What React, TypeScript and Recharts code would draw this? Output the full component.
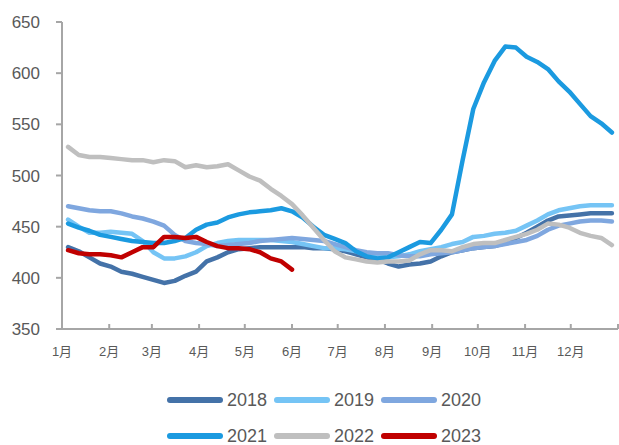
import React from "react";
import { LineChart, Line, XAxis, YAxis, Legend } from "recharts";

// day of year for each weekly observation
const weekDays = [
  4, 11, 18, 25, 32, 39, 46, 53, 60, 67, 74, 81, 88, 95, 102, 109, 116, 123,
  130, 137, 144, 151, 158, 165, 172, 179, 186, 193, 200, 207, 214, 221, 228,
  235, 242, 249, 256, 263, 270, 277, 284, 291, 298, 305, 312, 319, 326, 333,
  340, 347, 354, 361,
];

const monthStarts = [0, 31, 59, 90, 120, 151, 181, 212, 243, 273, 304, 334, 365];
const monthLabels = ["1月", "2月", "3月", "4月", "5月", "6月", "7月", "8月", "9月", "10月", "11月", "12月"];
const yTicks = [350, 400, 450, 500, 550, 600, 650];

const y2018 = [
  430, 426, 420, 414, 411, 406, 404, 401, 398, 395, 397, 402, 406, 416, 420, 425, 428, 429,
  430, 430, 430, 430, 430, 429, 429, 428, 426, 423, 420, 418, 414, 411, 413, 414, 416, 421,
  425, 427, 429, 430, 431, 434, 439, 444, 450, 456, 460, 461, 462, 463, 463, 463,
];
const y2019 = [
  457, 450, 444, 444, 445, 444, 443, 436, 425, 419, 419, 421, 425, 431, 434, 436, 437, 437,
  437, 437, 436, 435, 433, 431, 429, 429, 428, 426, 422, 421, 420, 421, 423, 426, 428, 430,
  433, 435, 440, 441, 443, 444, 446, 451, 456, 462, 466, 468, 470, 471, 471, 471,
];
const y2020 = [
  470, 468, 466, 465, 465, 463, 460, 458, 455, 451, 442, 436, 434, 433, 431, 432, 433, 434,
  436, 437, 438, 439, 438, 437, 436, 433, 430, 427, 425, 424, 424, 422, 421, 421, 423, 424,
  425, 427, 429, 430, 431, 433, 435, 437, 441, 447, 451, 453, 455, 456, 456, 455,
];
const y2021 = [
  453, 449, 446, 442, 440, 438, 436, 435, 434, 434, 436, 439, 447, 452, 454, 459, 462, 464,
  465, 466, 468, 465, 459, 450, 442, 438, 434, 426, 421, 419, 420, 425, 430, 435, 434, 447,
  462, 515, 565, 591, 612, 626, 625, 616, 611, 604, 592, 582, 570, 558, 551, 542,
];
const y2022 = [
  528, 520, 518, 518, 517, 516, 515, 515, 513, 515, 514, 508, 510, 508, 509, 511, 505, 499,
  495, 487, 480, 472, 461, 449, 437, 426, 420, 418, 416, 415, 416, 416, 417, 423, 427, 427,
  426, 430, 433, 434, 434, 437, 440, 443, 447, 453, 452, 449, 444, 441, 439, 432,
];
const y2023 = [
  427, 424, 423, 423, 422, 420, 425, 430, 430, 440, 440, 439, 440, 435, 431, 429, 429, 428,
  425, 419, 416, 408,
];

const series = [
  { key: "2018", values: y2018, color: "#4472A8" },
  { key: "2019", values: y2019, color: "#75C4F5" },
  { key: "2020", values: y2020, color: "#7FA7DF" },
  { key: "2021", values: y2021, color: "#1B9AE0" },
  { key: "2022", values: y2022, color: "#BFBFBF" },
  { key: "2023", values: y2023, color: "#C00000" },
];

const data = weekDays.map((day, i) => {
  const row: Record<string, number | null> = { day };
  series.forEach((s) => {
    row[s.key] = i < s.values.length ? s.values[i] : null;
  });
  return row;
});

const axisColor = "#A6A6A6";
const textColor = "#595959";
const font = '"Liberation Sans", Arial, "Noto Sans CJK SC", sans-serif';

function MonthTick(props: any) {
  const { x, y, payload } = props;
  const idx = monthStarts.indexOf(payload.value);
  const label = idx >= 0 && idx < monthLabels.length ? monthLabels[idx] : "";
  return (
    <g>
      <line x1={x} y1={y} x2={x} y2={y - 5} stroke={axisColor} strokeWidth={2} />
      <text x={x} y={y + 27} textAnchor="middle" fill={textColor} fontSize={13} fontFamily={font}>
        {label}
      </text>
    </g>
  );
}

function renderLegend() {
  const rows = [series.slice(0, 3), series.slice(3, 6)];
  return (
    <div style={{ fontFamily: font }}>
      {rows.map((row, r) => (
        <div key={r} style={{ display: "flex", alignItems: "center", height: 36 }}>
          {row.map((s) => (
            <div key={s.key} style={{ display: "flex", alignItems: "center", width: 107 }}>
              <svg width={56} height={8}>
                <line x1={3} y1={4} x2={53} y2={4} stroke={s.color} strokeWidth={6} strokeLinecap="round" />
              </svg>
              <span style={{ marginLeft: 4, fontSize: 18, color: textColor, lineHeight: "20px" }}>{s.key}</span>
            </div>
          ))}
        </div>
      ))}
    </div>
  );
}

export default function App() {
  return (
    <div style={{ position: "absolute", left: 0, top: 0, width: 619, height: 445, background: "#fff" }}>
      <LineChart width={619} height={445} data={data} margin={{ top: 22, right: 1, left: 0, bottom: 86 }}>
        <XAxis
          dataKey="day"
          type="number"
          domain={[0, 365]}
          ticks={monthStarts}
          interval={0}
          tickSize={0}
          tickMargin={0}
          tickLine={false}
          tick={<MonthTick />}
          height={30}
          axisLine={{ stroke: axisColor, strokeWidth: 2 }}
        />
        <YAxis
          type="number"
          domain={[350, 650]}
          ticks={yTicks}
          interval={0}
          width={62}
          tickSize={6}
          tickMargin={16}
          tickLine={{ stroke: axisColor, strokeWidth: 2 }}
          axisLine={{ stroke: axisColor, strokeWidth: 2 }}
          tick={{ fill: textColor, fontSize: 17, fontFamily: font }}
        />
        <Legend
          layout="horizontal"
          verticalAlign="middle"
          align="center"
          wrapperStyle={{ top: 382, left: 167, width: 330 }}
          content={renderLegend}
        />
        {series.map((s) => (
          <Line
            key={s.key}
            type="linear"
            dataKey={s.key}
            stroke={s.color}
            strokeWidth={4.5}
            strokeLinejoin="round"
            strokeLinecap="round"
            dot={false}
            activeDot={false}
            isAnimationActive={false}
          />
        ))}
      </LineChart>
    </div>
  );
}
